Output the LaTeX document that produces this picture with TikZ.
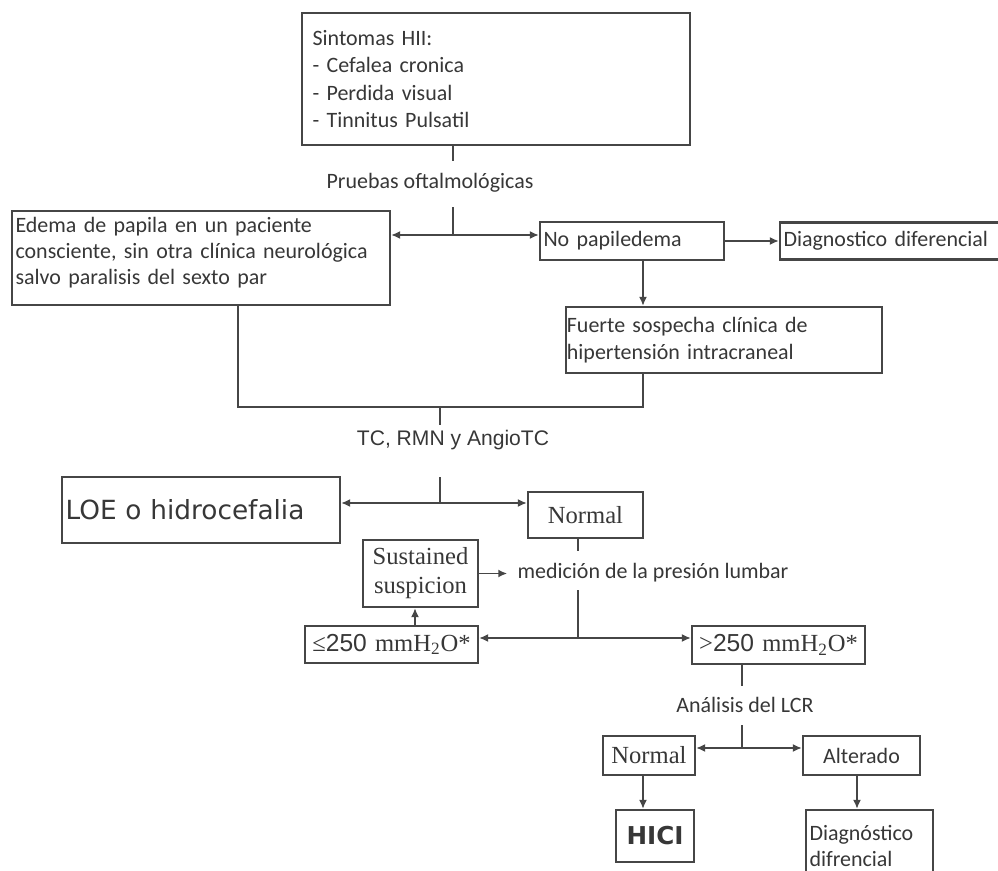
\documentclass[tikz,border=0pt]{standalone}
\usepackage{fontspec}
\usepackage{tikz}
\usetikzlibrary{arrows.meta}
\setmainfont{Carlito}
\newfontfamily\arialf{Liberation Sans}
\newfontfamily\timesf{Liberation Serif}
\newfontfamily\dejaf{DejaVu Sans}
\definecolor{linec}{RGB}{70,70,70}
\definecolor{txtc}{RGB}{55,55,55}
\tikzset{sz/.style 2 args={minimum width=#1*0.2mm, minimum height=#2*0.2mm, text width=#1*0.2mm-4pt}}

\begin{document}
\begin{tikzpicture}[x=0.02cm,y=-0.02cm]
\tikzstyle{every node}+=[inner sep=0pt, text=txtc]
\tikzstyle{box}=[draw=linec, line width=1.3pt, inner xsep=2pt, font=\fontsize{12.5}{15}\selectfont]
\tikzstyle{lbox}=[box, align=left]
\tikzstyle{cbox}=[box, align=center]
\tikzstyle{serif}=[font=\timesf\fontsize{14}{16.5}\selectfont]
\tikzstyle{lab}=[font=\fontsize{12.5}{15}\selectfont]
\tikzstyle{wire}=[draw=linec, line width=1pt]
\tikzstyle{arr}=[wire, -{Latex[length=1.8mm,width=1.6mm]}]
\useasboundingbox (0,0) rectangle (998,871);
\clip (0,0) rectangle (998,871);
% boxes
\node[lbox, sz={388}{132}, inner xsep=6pt, text width=388*0.2mm-12pt, font=\fontsize{12.5}{15.5}\selectfont] (symp) at (496,79) {Sintomas HII:\\- Cefalea cronica\\- Perdida visual\\- Tinnitus Pulsatil};
\node[lbox, sz={378}{94}] (edema) at (201,258) {Edema de papila en un paciente\\consciente, sin otra clínica neurológica\\salvo paralisis del sexto par\\[-7pt]\mbox{}};
\node[lbox, sz={184}{38}] (nopap) at (632,241) {No papiledema};
\node[lbox, sz={222}{37}] (ddif) at (891,241) {Diagnostico diferencial};
\node[lbox, sz={316}{66}, inner xsep=0.5pt, text width=316*0.2mm-1pt] (fuerte) at (724,340) {Fuerte sospecha clínica de\\hipertensión intracraneal};
\node[lbox, sz={278}{66}, font=\dejaf\fontsize{15}{18}\selectfont] (loe) at (201,510) {LOE o hidrocefalia};
\node[cbox, sz={115}{46}, serif] (norm) at (585.5,515) {Normal};
\node[cbox, sz={115}{67}, serif] (sust) at (420.5,573.5) {Sustained\\suspicion};
\node[cbox, sz={173}{37}, serif] (le) at (391.5,644.5) {≤{\arialf 250} mmH\textsubscript{2}O*};
\node[cbox, sz={173}{38}, serif] (gt) at (778.5,645) {>{\arialf 250} mmH\textsubscript{2}O*};
\node[cbox, sz={92}{39}, serif] (norm2) at (649,755.5) {Normal};
\node[cbox, sz={117}{39}] (alt) at (861.5,755.5) {Alterado};
\node[cbox, sz={78}{52}, font=\dejaf\bfseries\fontsize{14}{16}\selectfont] (hici) at (655,836) {HICI};
\node[lbox, sz={127}{72}] (dgn) at (869.5,846) {Diagnóstico\\difrencial};
% labels
\node[lab] (pruebas) at (430,183) {Pruebas oftalmológicas};
\node[lab, font=\arialf\fontsize{12}{14}\selectfont] (tc) at (453,440) {TC, RMN y AngioTC};
\node[lab] (med) at (653,573) {medición de la presión lumbar};
\node[lab] (lcr) at (745,705) {Análisis del LCR};
% joints
\coordinate (j1) at (453,235);
\coordinate (j2) at (440,407);
\coordinate (j3) at (440,503);
\coordinate (j4) at (578,638);
\coordinate (j5) at (742,748);
\coordinate (k1) at (643,407);
\coordinate (k2) at (238,407);
\coordinate (k3) at (415,620);
\coordinate (k4) at (643,790);
\coordinate (k5) at (857,790);
% connectors
\draw[wire] (symp.south -| j1) -- ++(0,15);
\draw[wire] (j1) -- ++(0,-28);
\draw[arr] (j1) -- (edema.east |- j1);
\draw[arr] (j1) -- (nopap.west |- j1);
\draw[arr] (nopap.east) -- (ddif.west |- nopap.east);
\draw[arr] (nopap.south -| k1) -- (fuerte.north -| k1);
\draw[wire] (fuerte.south -| k1) -- (k1) -- (k2) -- (edema.south -| k2);
\draw[wire] (j2) -- ++(0,18);
\draw[wire] (j3) -- ++(0,-26);
\draw[arr] (j3) -- (loe.east |- j3);
\draw[arr] (j3) -- (norm.west |- j3);
\draw[wire] (norm.south -| j4) -- ++(0,12);
\draw[wire] (j4) -- ++(0,-48);
\draw[arr] (j4) -- (le.east |- j4);
\draw[arr] (j4) -- (gt.west |- j4);
\draw[arr, shorten >=2mm] (sust.east) -- (med.west |- sust.east);
\draw[arr] (le.north -| k3) -- (sust.south -| k3);
\draw[wire] (gt.south -| j5) -- ++(0,21);
\draw[wire] (j5) -- ++(0,-23);
\draw[arr] (j5) -- (norm2.east |- j5);
\draw[arr] (j5) -- (alt.west |- j5);
\draw[arr] (norm2.south -| k4) -- (hici.north -| k4);
\draw[arr] (alt.south -| k5) -- (dgn.north -| k5);
\end{tikzpicture}
\end{document}
